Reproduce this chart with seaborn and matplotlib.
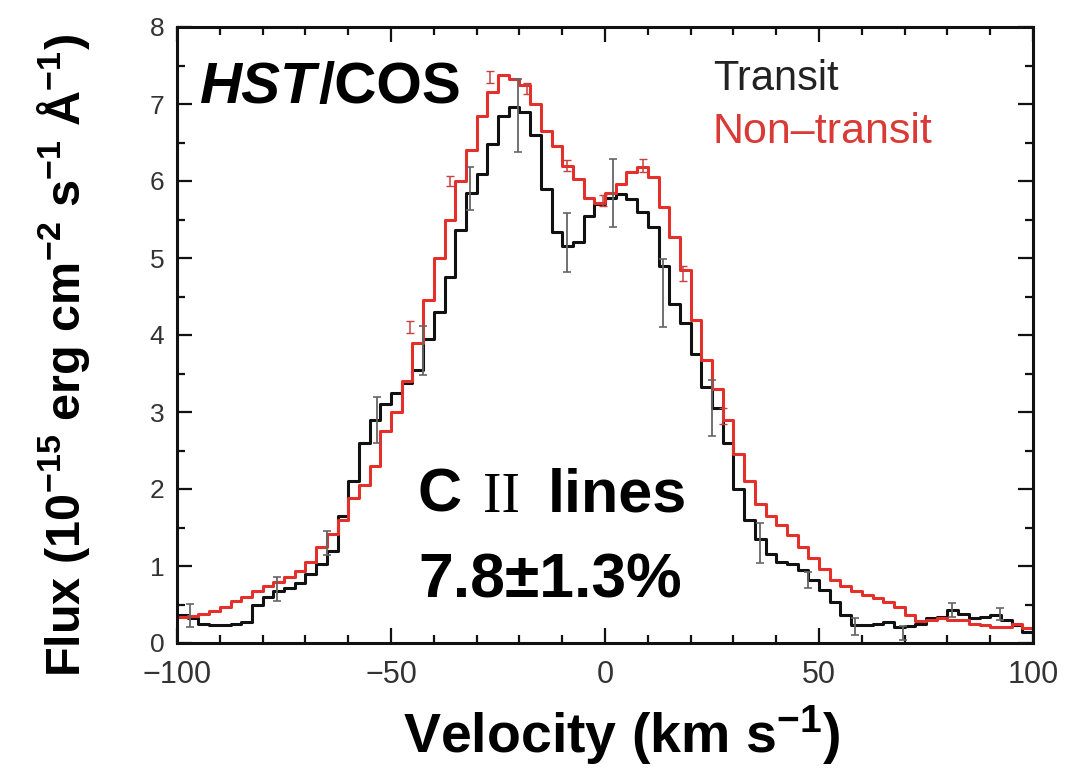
import numpy as np
import pandas as pd
import matplotlib
matplotlib.use("Agg")
import matplotlib.pyplot as plt
from matplotlib.ticker import MultipleLocator
import seaborn as sns

# ---------------- data ----------------
bin_width = 2.5
bin_left = np.arange(-100.0, 100.0, bin_width)  # left edges of 80 velocity bins

transit = [0.36, 0.33, 0.25, 0.24, 0.23, 0.25, 0.27, 0.50, 0.60, 0.68,
           0.72, 0.78, 0.90, 1.02, 1.20, 1.65, 2.10, 2.60, 2.90, 3.10,
           3.25, 3.38, 3.55, 3.95, 4.30, 4.75, 5.37, 5.85, 6.09, 6.48,
           6.84, 6.96, 6.90, 6.60, 5.89, 5.34, 5.15, 5.21, 5.55, 5.70,
           5.78, 5.83, 5.76, 5.60, 5.40, 4.90, 4.40, 4.15, 3.75, 3.33,
           3.05, 2.60, 2.00, 1.60, 1.35, 1.15, 1.05, 1.03, 0.95, 0.82,
           0.69, 0.53, 0.36, 0.24, 0.23, 0.25, 0.27, 0.21, 0.22, 0.25,
           0.33, 0.34, 0.43, 0.38, 0.33, 0.34, 0.37, 0.30, 0.23, 0.14]

non_transit = [0.34, 0.35, 0.38, 0.42, 0.47, 0.54, 0.60, 0.68, 0.74, 0.79,
               0.86, 0.93, 1.05, 1.25, 1.42, 1.60, 1.88, 2.05, 2.30, 2.75,
               3.00, 3.40, 3.90, 4.45, 5.00, 5.50, 6.00, 6.40, 6.85, 7.15,
               7.38, 7.33, 7.25, 7.00, 6.65, 6.45, 6.20, 6.02, 5.78, 5.72,
               5.85, 5.96, 6.12, 6.18, 6.05, 5.66, 5.27, 4.85, 4.20, 3.68,
               3.30, 2.90, 2.45, 2.10, 1.80, 1.65, 1.53, 1.40, 1.25, 1.10,
               0.96, 0.82, 0.74, 0.67, 0.62, 0.58, 0.53, 0.47, 0.36, 0.28,
               0.30, 0.32, 0.30, 0.30, 0.25, 0.23, 0.21, 0.21, 0.25, 0.19]

err_v_transit = [-97.0, -76.6, -65.0, -53.3, -42.6, -31.5, -20.3, -8.9, 1.9,
                 13.6, 25.0, 36.2, 47.4, 58.4, 69.6, 81.0, 92.3]
err_f_transit = [0.36, 0.70, 1.30, 2.90, 3.80, 5.90, 6.85, 5.20, 5.84,
                 4.55, 3.05, 1.30, 0.82, 0.22, 0.13, 0.43, 0.38]
err_e_transit = [0.15, 0.16, 0.16, 0.30, 0.32, 0.28, 0.47, 0.38, 0.44,
                 0.44, 0.36, 0.26, 0.10, 0.11, 0.09, 0.09, 0.08]

err_v_non = [-45.6, -36.2, -26.9, -18.2, -8.9, -0.5, 8.9, 18.2, 27.6]
err_f_non = [4.10, 6.00, 7.35, 7.20, 6.20, 5.75, 6.20, 4.80, 2.95]
err_e_non = [0.08, 0.07, 0.08, 0.07, 0.07, 0.07, 0.08, 0.10, 0.10]

x_ticks = [-100, -50, 0, 50, 100]
y_ticks = [0, 1, 2, 3, 4, 5, 6, 7, 8]

# ---------------- styling ----------------
sns.set_theme(style="ticks")
plt.rcParams["font.family"] = ["Liberation Sans", "DejaVu Sans"]
plt.rcParams["mathtext.fontset"] = "custom"
plt.rcParams["mathtext.rm"] = "Liberation Sans"
plt.rcParams["mathtext.bf"] = "Liberation Sans:bold"
plt.rcParams["mathtext.it"] = "Liberation Sans:italic"
plt.rcParams["text.color"] = "black"

RED = "#e3302b"
BLACK = "#111111"
W, H = 1066, 770

fig = plt.figure(figsize=(W / 100, H / 100), dpi=100)
ax = fig.add_axes([177 / W, 1 - 643 / H, (1033 - 177) / W, (643 - 27) / H])


def steps(vals, name):
    x = np.append(bin_left, 100.0)
    y = np.append(np.asarray(vals), vals[-1])
    return pd.DataFrame({"velocity": x, "flux": y, "series": name})


df = pd.concat([steps(transit, "Transit"), steps(non_transit, "Non-transit")],
               ignore_index=True)

sns.lineplot(data=df, x="velocity", y="flux", hue="series",
             palette={"Transit": BLACK, "Non-transit": RED},
             hue_order=["Transit", "Non-transit"],
             estimator=None, sort=False, legend=False,
             drawstyle="steps-post", linewidth=2.2, ax=ax)

ax.errorbar(err_v_transit, err_f_transit, yerr=err_e_transit, fmt="none",
            ecolor="#666666", elinewidth=1.3, capsize=3, capthick=1.2, zorder=4)
ax.errorbar(err_v_non, err_f_non, yerr=err_e_non, fmt="none",
            ecolor="#c84040", elinewidth=1.1, capsize=3, capthick=1.0, zorder=4)

ax.set_xlim(-100, 100)
ax.set_ylim(0, 8)
ax.set_xticks(x_ticks)
ax.set_yticks(y_ticks)
ax.xaxis.set_minor_locator(MultipleLocator(10))
ax.yaxis.set_minor_locator(MultipleLocator(0.5))
ax.set_xticklabels(["\u2212100", "\u221250", "0", "50", "100"])
ax.tick_params(which="both", direction="in", top=True, right=True,
               color="#111111", width=1.6)
ax.tick_params(which="major", length=11)
ax.tick_params(which="minor", length=6)
ax.tick_params(axis="x", labelsize=22, labelcolor="#333333", pad=12)
ax.tick_params(axis="y", labelsize=19, labelcolor="#333333", pad=9)
for s in ax.spines.values():
    s.set_linewidth(2.2)
    s.set_color("#111111")
ax.set_xlabel("")
ax.set_ylabel("")


def fx(x):
    return x / W


def fy(y):
    return 1 - y / H


# axis titles
fig.text(fx(64), fy(356),
         r"Flux (10$^{\mathbf{-15}}$ erg cm$^{\mathbf{-2}}$ s$^{\mathbf{-1}}$ Å$^{\mathbf{-1}}$)",
         rotation=90, ha="center", va="center", fontsize=35, fontweight="bold",
         color="black")
fig.text(fx(622), fy(735), r"Velocity (km s$^{\mathbf{-1}}$)",
         ha="center", va="center", fontsize=40, fontweight="bold",
         color="black")

# instrument label: italic HST followed by upright /COS
t_hst = fig.text(fx(200), fy(103), "HST", ha="left", va="baseline",
                 fontsize=42, fontweight="bold", fontstyle="italic",
                 color="black")
fig.canvas.draw()
ext = t_hst.get_window_extent(renderer=fig.canvas.get_renderer())
fig.text(ext.x1 / W + 0.002, fy(103), "/COS", ha="left", va="baseline",
         fontsize=42, fontweight="bold", color="black")

# legend as text
fig.text(fx(713), fy(90), "Transit", ha="left", va="baseline", fontsize=30,
         color="#222222")
fig.text(fx(713), fy(143), "Non\u2013transit", ha="left", va="baseline",
         fontsize=31, color="#d93a35")

# line annotation
fig.text(fx(418), fy(512), "C", ha="left", va="baseline", fontsize=44,
         fontweight="bold", color="black")
fig.text(fx(483), fy(512), "II", ha="left", va="baseline", fontsize=40,
         family="Liberation Serif", color="black")
fig.text(fx(548), fy(512), "lines", ha="left", va="baseline", fontsize=44,
         fontweight="bold", color="black")
fig.text(fx(550), fy(597), "7.8\u00b11.3%", ha="center", va="baseline",
         fontsize=45, fontweight="bold", color="black")

fig.savefig("out.png", dpi=100)
